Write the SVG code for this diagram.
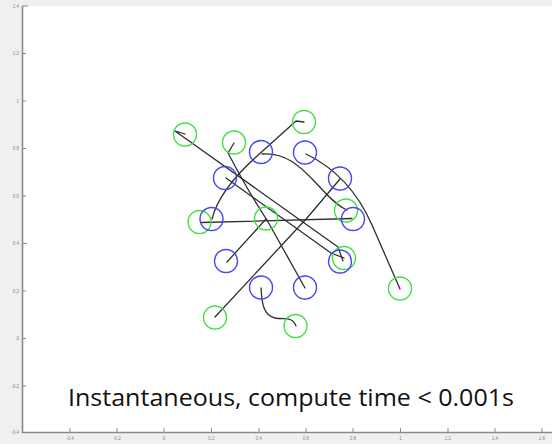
<svg xmlns="http://www.w3.org/2000/svg" width="552" height="444" viewBox="0 0 552 444">
  <style>
    .axis { stroke: #8a8a8a; stroke-width: 1.6; fill: none; }
    .tick { stroke: #8a8a8a; stroke-width: 1; }
    .tl { font-family: "Liberation Sans", Arial, sans-serif; font-size: 4.5px; fill: #888; }
    .start { fill: none; stroke: #3fe03f; stroke-width: 1.4; }
    .goal { fill: none; stroke: #4545f5; stroke-width: 1.4; }
    .traj { fill: none; stroke: #2e2e2e; stroke-width: 1.3; stroke-linejoin: round; stroke-linecap: round; }
    .caption { font-family: "Open Sans", "Liberation Sans", sans-serif; font-size: 24px; fill: #111; }
  </style>

  <!-- figure background and plot area -->
  <rect x="0" y="0" width="552" height="444" fill="#f0f0f0"/>
  <rect x="22" y="6" width="530" height="426" fill="#ffffff"/>

  <!-- axes -->
  <g id="axes">
    <path class="axis" d="M22.5,6 L22.5,432.5 L552,432.5"/>
    <g id="y-ticks">
      <line class="tick" x1="22" y1="6" x2="28" y2="6" stroke="#555"/>
      <line class="tick" x1="22" y1="53.5" x2="26" y2="53.5"/>
      <line class="tick" x1="22" y1="101" x2="26" y2="101"/>
      <line class="tick" x1="22" y1="148.5" x2="26" y2="148.5"/>
      <line class="tick" x1="22" y1="196" x2="26" y2="196"/>
      <line class="tick" x1="22" y1="243.5" x2="27" y2="243.5" stroke="#222"/>
      <line class="tick" x1="22" y1="291" x2="26" y2="291"/>
      <line class="tick" x1="22" y1="338.5" x2="26" y2="338.5"/>
      <line class="tick" x1="22" y1="386" x2="26" y2="386"/>
      <text class="tl" x="19" y="7.5" text-anchor="end">1.4</text>
      <text class="tl" x="19" y="55" text-anchor="end">1.2</text>
      <text class="tl" x="19" y="102.5" text-anchor="end">1</text>
      <text class="tl" x="19" y="150" text-anchor="end">0.8</text>
      <text class="tl" x="19" y="197.5" text-anchor="end">0.6</text>
      <text class="tl" x="19" y="245" text-anchor="end">0.4</text>
      <text class="tl" x="19" y="292.5" text-anchor="end">0.2</text>
      <text class="tl" x="19" y="340" text-anchor="end">0</text>
      <text class="tl" x="19" y="387.5" text-anchor="end">-0.2</text>
      <text class="tl" x="19" y="434" text-anchor="end">-0.4</text>
    </g>
    <g id="x-ticks">
      <line class="tick" x1="70" y1="432" x2="70" y2="428"/>
      <line class="tick" x1="117" y1="432" x2="117" y2="428"/>
      <line class="tick" x1="164" y1="432" x2="164" y2="428"/>
      <line class="tick" x1="211.5" y1="432" x2="211.5" y2="428"/>
      <line class="tick" x1="259" y1="432" x2="259" y2="428"/>
      <line class="tick" x1="306" y1="432" x2="306" y2="428"/>
      <line class="tick" x1="353" y1="432" x2="353" y2="428"/>
      <line class="tick" x1="400.5" y1="432" x2="400.5" y2="428"/>
      <line class="tick" x1="448" y1="432" x2="448" y2="428"/>
      <line class="tick" x1="495" y1="432" x2="495" y2="428"/>
      <line class="tick" x1="542" y1="432" x2="542" y2="428"/>
      <g text-anchor="middle">
        <text class="tl" x="70" y="440">-0.4</text>
        <text class="tl" x="117" y="440">-0.2</text>
        <text class="tl" x="164" y="440">0</text>
        <text class="tl" x="211.5" y="440">0.2</text>
        <text class="tl" x="259" y="440">0.4</text>
        <text class="tl" x="306" y="440">0.6</text>
        <text class="tl" x="353" y="440">0.8</text>
        <text class="tl" x="400.5" y="440">1</text>
        <text class="tl" x="448" y="440">1.2</text>
        <text class="tl" x="495" y="440">1.4</text>
        <text class="tl" x="542" y="440">1.6</text>
      </g>
    </g>
  </g>

  <!-- trajectories from start (green) to goal (blue) -->
  <g id="connectors">
    <path class="traj" d="M400,289 Q394,275 372,225 Q350,175 306,154"/>
    <path class="traj" d="M201,222.5 L352,218.5"/>
    <path class="traj" d="M215,317 L307,218 L340,179"/>
    <path class="traj" d="M296,326 C292,316 285,320 275,318 C262,315 262,300 261,288"/>
    <path class="traj" d="M234,143 L228,153 C236,168 250,195 267,220 L305,288"/>
    <path class="traj" d="M266,219 L227,262"/>
    <path class="traj" d="M304,122 L296,121 L256,157 C236,175 218,195 212,219"/>
    <path class="traj" d="M347,210 C335,205 325,192 315,182 C300,166 285,152 262,154"/>
    <path class="traj" d="M185,134 L175,131 L338,247 L343,261"/>
    <path class="traj" d="M344,258 L331,253 L226,178"/>
  </g>

  <!-- start positions -->
  <g id="start-1"><circle class="start" cx="185" cy="134.5" r="11.5"/></g>
  <g id="start-2"><circle class="start" cx="234" cy="142.5" r="11.5"/></g>
  <g id="start-3"><circle class="start" cx="304" cy="122" r="11.5"/></g>
  <g id="start-4"><circle class="start" cx="199.5" cy="222" r="11.5"/></g>
  <g id="start-5"><circle class="start" cx="266" cy="218.5" r="11.5"/></g>
  <g id="start-6"><circle class="start" cx="346" cy="210.5" r="11.5"/></g>
  <g id="start-7"><circle class="start" cx="344" cy="258" r="11.5"/></g>
  <g id="start-8"><circle class="start" cx="400" cy="288.5" r="11.5"/></g>
  <g id="start-9"><circle class="start" cx="215" cy="317.5" r="11.5"/></g>
  <g id="start-10"><circle class="start" cx="295.5" cy="326" r="11.5"/></g>

  <!-- goal positions -->
  <g id="goal-1"><circle class="goal" cx="261" cy="152" r="11.5"/></g>
  <g id="goal-2"><circle class="goal" cx="305" cy="152.5" r="11.5"/></g>
  <g id="goal-3"><circle class="goal" cx="225" cy="178" r="11.5"/></g>
  <g id="goal-4"><circle class="goal" cx="340" cy="178.5" r="11.5"/></g>
  <g id="goal-5"><circle class="goal" cx="211.5" cy="219" r="11.5"/></g>
  <g id="goal-6"><circle class="goal" cx="353" cy="219" r="11.5"/></g>
  <g id="goal-7"><circle class="goal" cx="226" cy="261" r="11.5"/></g>
  <g id="goal-8"><circle class="goal" cx="340" cy="261.5" r="11.5"/></g>
  <g id="goal-9"><circle class="goal" cx="261" cy="287.5" r="11.5"/></g>
  <g id="goal-10"><circle class="goal" cx="305" cy="287.5" r="11.5"/></g>

  <text class="caption" x="68" y="406" textLength="446" lengthAdjust="spacingAndGlyphs">Instantaneous, compute time &lt; 0.001s</text>
</svg>
